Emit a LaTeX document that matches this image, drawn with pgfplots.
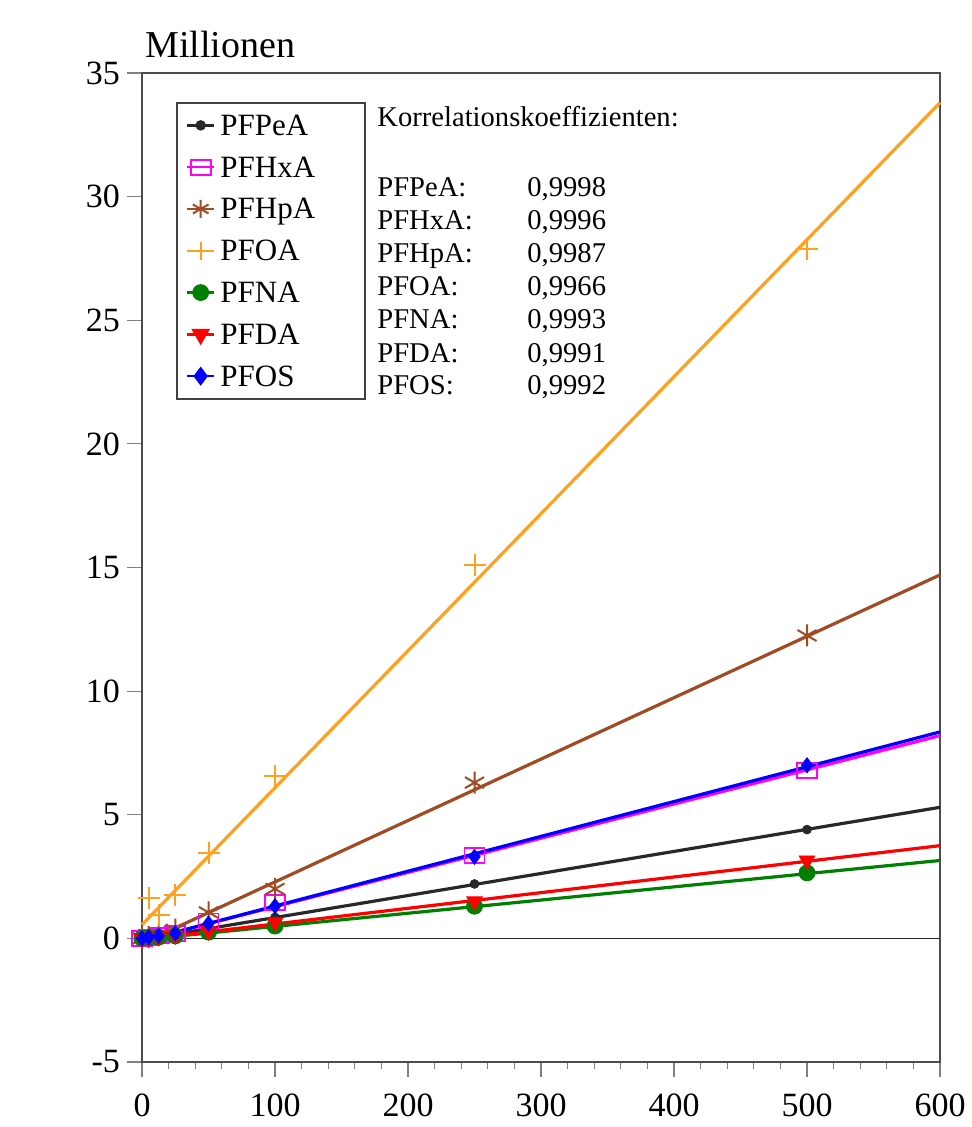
\documentclass[border=0pt]{standalone}
\usepackage{pgfplots}
\pgfplotsset{compat=1.18}
\usepackage{fontspec}
\setmainfont{Liberation Serif}
\definecolor{cPe}{RGB}{40,40,40}
\definecolor{cHx}{RGB}{255,0,255}
\definecolor{cHp}{RGB}{160,75,35}
\definecolor{cOA}{RGB}{255,160,30}
\definecolor{cNA}{RGB}{0,128,0}
\definecolor{cDA}{RGB}{255,0,0}
\definecolor{cOS}{RGB}{0,0,255}
\begin{document}
\begin{tikzpicture}
\begin{axis}[
  at={(0,0)}, anchor=south west,
  scale only axis, width=399pt, height=494.5pt,
  xmin=0, xmax=600, ymin=-5, ymax=35,
  xtick={0,100,...,600}, ytick={-5,0,...,35},
  minor x tick num=4,
  clip=false,
  tick pos=left, tick align=outside,
  major tick length=7.5pt, minor tick length=3.5pt,
  axis line style={draw=black!70, line width=1pt},
  every tick/.style={draw=black!50, line width=0.6pt},
  ticklabel style={font=\fontsize{17}{20}\selectfont},
  xticklabel style={yshift=-5pt},
  /pgf/number format/assume math mode=true,
  legend cell align=left,
  legend image code/.code={\draw[mark repeat=2,mark phase=2,#1] plot coordinates {(0pt,0pt)(6.75pt,0pt)(13.5pt,0pt)};},
  legend style={at={(0.0426,0.9707)}, anchor=north west, draw=black!75, line width=1pt,
    font=\fontsize{15.5}{18}\selectfont, inner xsep=4.5pt, inner ysep=4.2pt,
    nodes={inner sep=0pt, text height=12pt, text depth=2pt},
    row sep=6.9pt, column sep=2.5pt},
]
\addlegendimage{cPe, line width=1.2pt, mark=*, mark size=2pt}
\addlegendentry{\makebox[68pt][l]{PFPeA}}
\addlegendimage{cHx, line width=1.2pt, mark=square, mark size=3.75pt, mark options={xscale=1.33, line width=0.9pt}}
\addlegendentry{PFHxA}
\addlegendimage{cHp, line width=1.2pt, mark=asterisk, mark size=4.5pt, mark options={line width=1pt}}
\addlegendentry{PFHpA}
\addlegendimage{cOA, line width=1.2pt, mark=+, mark size=4.5pt, mark options={line width=1pt}}
\addlegendentry{PFOA}
\addlegendimage{cNA, line width=1.2pt, mark=*, mark size=3.6pt}
\addlegendentry{PFNA}
\addlegendimage{cDA, line width=1.2pt, mark=triangle*, mark size=4.2pt, mark options={rotate=180}}
\addlegendentry{PFDA}
\addlegendimage{cOS, line width=1.2pt, mark=diamond*, mark size=3.8pt}
\addlegendentry{PFOS}

% zero line
\addplot[black!85, line width=0.8pt, forget plot] coordinates {(0,0) (600,0)};

% markers
\addplot[only marks, cPe, mark=*, mark size=2.2pt, forget plot] coordinates {
 (0,0) (5,0.04) (12.5,0.08) (25,0.15) (50,0.35) (100,0.85) (250,2.2) (500,4.4)};
\addplot[only marks, cHx, mark=square, mark size=3.75pt, mark options={xscale=1.33, line width=0.9pt}, forget plot] coordinates {
 (0,0) (5,0.05) (12.5,0.1) (25,0.2) (50,0.7) (100,1.45) (250,3.35) (500,6.8)};
\addplot[only marks, cHp, mark=asterisk, mark size=5.5pt, mark options={line width=1pt}, forget plot] coordinates {
 (0,0) (5,0.05) (12.5,0.15) (25,0.35) (50,1.05) (100,2.0) (250,6.3) (500,12.25)};
\addplot[only marks, cOA, mark=+, mark size=5.5pt, mark options={line width=1pt}, forget plot] coordinates {
 (5,1.63) (12.5,0.95) (25,1.76) (50,3.45) (100,6.55) (250,15.1) (500,27.9)};
\addplot[only marks, cNA, mark=*, mark size=4pt, forget plot] coordinates {
 (0,0) (5,0.02) (12.5,0.05) (25,0.1) (50,0.25) (100,0.5) (250,1.3) (500,2.65)};
\addplot[only marks, cDA, mark=triangle*, mark size=4.5pt, mark options={rotate=180}, forget plot] coordinates {
 (0,0) (5,0.03) (12.5,0.06) (25,0.12) (50,0.3) (100,0.65) (250,1.5) (500,3.15)};
\addplot[only marks, cOS, mark=diamond*, mark size=3.8pt, forget plot] coordinates {
 (0,0) (5,0.05) (12.5,0.1) (25,0.2) (50,0.6) (100,1.3) (250,3.3) (500,7.0)};

% regression lines
\addplot[cPe, line width=1.6pt, forget plot] coordinates {(0,-0.05) (600,5.3)};
\addplot[cHx, line width=1.6pt, forget plot] coordinates {(0,-0.1) (600,8.2)};
\addplot[cHp, line width=1.6pt, forget plot] coordinates {(0,-0.2) (600,14.7)};
\addplot[cOA, line width=1.6pt, forget plot] coordinates {(0,0.55) (600,33.8)};
\addplot[cNA, line width=1.6pt, forget plot] coordinates {(0,-0.05) (600,3.15)};
\addplot[cDA, line width=1.6pt, forget plot] coordinates {(0,-0.05) (600,3.75)};
\addplot[cOS, line width=1.6pt, forget plot] coordinates {(0,-0.1) (600,8.35)};

% texts
\node[anchor=base west, inner sep=0pt, font=\fontsize{19}{22}\selectfont] at (rel axis cs:0,1) [xshift=1.5pt, yshift=7.5pt] {Millionen};
\begin{scope}[every node/.style={anchor=base west, inner sep=0pt, font=\fontsize{14.3}{17}\selectfont}]
\node at (axis cs:176.7,32.816) {Korrelationskoeffizienten:};
\node at (axis cs:176.7,29.985) {PFPeA:};  \node at (axis cs:289.5,29.985) {0,9998};
\node at (axis cs:176.7,28.650) {PFHxA:};  \node at (axis cs:289.5,28.650) {0,9996};
\node at (axis cs:176.7,27.316) {PFHpA:};  \node at (axis cs:289.5,27.316) {0,9987};
\node at (axis cs:176.7,25.981) {PFOA:};   \node at (axis cs:289.5,25.981) {0,9966};
\node at (axis cs:176.7,24.646) {PFNA:};   \node at (axis cs:289.5,24.646) {0,9993};
\node at (axis cs:176.7,23.311) {PFDA:};   \node at (axis cs:289.5,23.311) {0,9991};
\node at (axis cs:176.7,21.977) {PFOS:};   \node at (axis cs:289.5,21.977) {0,9992};
\end{scope}
\end{axis}
\pgfresetboundingbox
\path[use as bounding box] (-71pt,-32.5pt) rectangle (414.5pt,531pt);
\end{tikzpicture}
\end{document}
